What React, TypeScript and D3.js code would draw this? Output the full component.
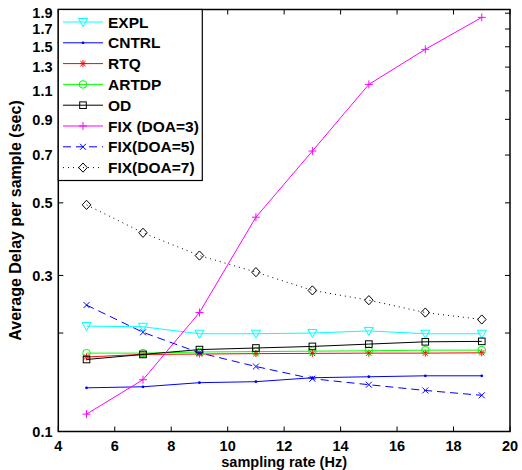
import React from "react";
import * as d3 from "d3";

const rates = [5, 7, 9, 11, 13, 15, 17, 19];
const explVals = [0.21, 0.209, 0.199, 0.199, 0.2, 0.203, 0.199, 0.199];
const cntrlVals = [0.136, 0.137, 0.141, 0.142, 0.146, 0.147, 0.148, 0.148];
const rtqVals = [0.169, 0.172, 0.1725, 0.173, 0.1733, 0.1736, 0.1736, 0.174];
const artdpVals = [0.1736, 0.1736, 0.175, 0.1755, 0.176, 0.1765, 0.1773, 0.1773];
const odVals = [0.166, 0.172, 0.178, 0.18, 0.182, 0.185, 0.188, 0.1886];
const fix3Vals = [0.113, 0.144, 0.231, 0.452, 0.72, 1.151, 1.473, 1.845];
const fix5Vals = [0.2435, 0.201, 0.174, 0.158, 0.145, 0.139, 0.1335, 0.129];
const fix7Vals = [0.493, 0.405, 0.345, 0.307, 0.27, 0.252, 0.231, 0.22];

const xTicks = [4, 6, 8, 10, 12, 14, 16, 18, 20];
const yTicks = [0.1, 0.2, 0.3, 0.5, 0.7, 0.9, 1.1, 1.3, 1.5, 1.7, 1.9];
const yTickLabels = ["0.1", "", "0.3", "0.5", "0.7", "0.9", "1.1", "1.3", "1.5", "1.7", "1.9"];

type Marker = "tri" | "dot" | "star" | "circle" | "square" | "plus" | "x" | "diamond";
type Series = { name: string; values: number[]; color: string; marker: Marker; dash?: string };

const series: Series[] = [
  { name: "EXPL", values: explVals, color: "#00ffff", marker: "tri" },
  { name: "CNTRL", values: cntrlVals, color: "#0000ff", marker: "dot" },
  { name: "RTQ", values: rtqVals, color: "#ff0000", marker: "star" },
  { name: "ARTDP", values: artdpVals, color: "#00ff00", marker: "circle" },
  { name: "OD", values: odVals, color: "#000000", marker: "square" },
  { name: "FIX (DOA=3)", values: fix3Vals, color: "#ff00ff", marker: "plus" },
  { name: "FIX(DOA=5)", values: fix5Vals, color: "#0000ff", marker: "x", dash: "8,5" },
  { name: "FIX(DOA=7)", values: fix7Vals, color: "#000000", marker: "diamond", dash: "1,4" },
];

const W = 522;
const H = 470;
const left = 58.3;
const right = 510;
const top = 9.5;
const bottom = 431.5;
const FONT = "'Liberation Sans', Arial, Helvetica, sans-serif";

function MarkerShape({ type, cx, cy, color }: { type: Marker; cx: number; cy: number; color: string }) {
  const sw = 1;
  switch (type) {
    case "tri":
      return <path d={`M${cx - 4.5},${cy - 3.5} L${cx + 4.5},${cy - 3.5} L${cx},${cy + 4.5} Z`} fill="none" stroke={color} strokeWidth={sw} />;
    case "dot":
      return <circle cx={cx} cy={cy} r={1.4} fill={color} />;
    case "star":
      return (
        <path
          d={`M${cx - 3.5},${cy} L${cx + 3.5},${cy} M${cx},${cy - 3.5} L${cx},${cy + 3.5} M${cx - 2.6},${cy - 2.6} L${cx + 2.6},${cy + 2.6} M${cx - 2.6},${cy + 2.6} L${cx + 2.6},${cy - 2.6}`}
          stroke={color}
          strokeWidth={sw}
          fill="none"
        />
      );
    case "circle":
      return <circle cx={cx} cy={cy} r={3.8} fill="none" stroke={color} strokeWidth={sw} />;
    case "square":
      return <rect x={cx - 3.3} y={cy - 3.3} width={6.6} height={6.6} fill="none" stroke={color} strokeWidth={sw} />;
    case "plus":
      return <path d={`M${cx - 4},${cy} L${cx + 4},${cy} M${cx},${cy - 4} L${cx},${cy + 4}`} stroke={color} strokeWidth={sw} fill="none" />;
    case "x":
      return <path d={`M${cx - 3},${cy - 3} L${cx + 3},${cy + 3} M${cx - 3},${cy + 3} L${cx + 3},${cy - 3}`} stroke={color} strokeWidth={sw} fill="none" />;
    case "diamond":
      return <path d={`M${cx},${cy - 4.6} L${cx + 4.3},${cy} L${cx},${cy + 4.6} L${cx - 4.3},${cy} Z`} fill="none" stroke={color} strokeWidth={sw} />;
  }
  return null;
}

export default function App() {
  const x = d3.scaleLinear().domain([4, 20]).range([left, right]);
  const y = d3.scaleLog().domain([0.1, 1.95]).range([bottom, top]);
  const line = d3
    .line<number>()
    .x((_, i) => x(rates[i]))
    .y((v) => y(v));

  const legX = left;
  const legY = top;
  const legW = 144;
  const legH = 171;

  return (
    <svg
      width={W}
      height={H}
      style={{ position: "absolute", left: 0, top: 0, background: "#fff" }}
      fontFamily={FONT}
    >
      <rect x={0} y={0} width={W} height={H} fill="#fff" />
      {series.map((s) => (
        <g key={s.name}>
          <path d={line(s.values) || ""} fill="none" stroke={s.color} strokeWidth={1} strokeDasharray={s.dash} />
          {s.values.map((v, i) => (
            <MarkerShape key={i} type={s.marker} cx={x(rates[i])} cy={y(v)} color={s.color} />
          ))}
        </g>
      ))}

      <rect x={left} y={top} width={right - left} height={bottom - top} fill="none" stroke="#000" strokeWidth={1.5} />
      {xTicks.map((t) => (
        <g key={"x" + t}>
          <line x1={x(t)} x2={x(t)} y1={bottom} y2={bottom - 5} stroke="#000" strokeWidth={1} />
          <line x1={x(t)} x2={x(t)} y1={top} y2={top + 5} stroke="#000" strokeWidth={1} />
          <text x={x(t)} y={451} textAnchor="middle" fontSize={14.5} fontWeight="bold" fill="#000">
            {t}
          </text>
        </g>
      ))}
      {yTicks.map((t, i) => (
        <g key={"y" + t}>
          <line x1={left} x2={left + 5} y1={y(t)} y2={y(t)} stroke="#000" strokeWidth={1} />
          <line x1={right} x2={right - 5} y1={y(t)} y2={y(t)} stroke="#000" strokeWidth={1} />
          <text x={52.5} y={y(t)} dy="0.36em" textAnchor="end" fontSize={14.5} fontWeight="bold" fill="#000">
            {yTickLabels[i]}
          </text>
        </g>
      ))}

      <text x={(left + right) / 2} y={467} textAnchor="middle" fontSize={14.5} fontWeight="bold" fill="#000">
        sampling rate (Hz)
      </text>
      <text
        transform={`translate(21,${(top + bottom) / 2}) rotate(-90)`}
        textAnchor="middle"
        fontSize={16}
        fontWeight="bold"
        fill="#000"
      >
        Average Delay per sample (sec)
      </text>

      <rect x={legX} y={legY} width={legW} height={legH} fill="#fff" stroke="#000" strokeWidth={1.2} />
      {series.map((s, i) => {
        const cy = 22 + i * 20.8;
        return (
          <g key={"leg" + s.name}>
            <line x1={63} x2={103} y1={cy} y2={cy} stroke={s.color} strokeWidth={1} strokeDasharray={s.dash} />
            <MarkerShape type={s.marker} cx={83} cy={cy} color={s.color} />
            <text x={108} y={cy} dy="0.36em" fontSize={15.5} fontWeight="bold" fill="#000">
              {s.name}
            </text>
          </g>
        );
      })}
    </svg>
  );
}
